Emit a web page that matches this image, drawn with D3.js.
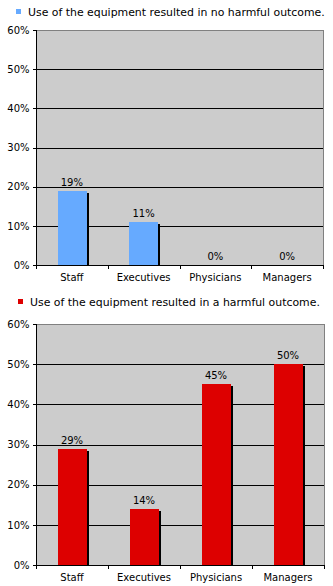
<!DOCTYPE html>
<html><head><meta charset="utf-8">
<script src="https://cdn.jsdelivr.net/npm/d3@7"></script>
<style>body{margin:0;background:#fff}svg{display:block}text{font-family:"DejaVu Sans",Verdana,sans-serif;fill:#000}</style>
</head><body><svg id="c" width="333" height="586"></svg>
<script>
const categories = ["Staff","Executives","Physicians","Managers"];
const noHarmValues = [19, 11, 0, 0];
const harmValues = [29, 14, 45, 50];
const yTicks = [0,10,20,30,40,50,60];
const legendNoHarm = "Use of the equipment resulted in no harmful outcome.";
const legendHarm = "Use of the equipment resulted in a harmful outcome.";

const svg = d3.select("#c");

function drawChart(cfg){
  const g = svg.append("g");
  const x = d3.scaleBand().domain(categories).range([cfg.left, cfg.right]).paddingInner(0.6).paddingOuter(0.3);
  const xb = d3.scaleBand().domain(categories).range([cfg.left, cfg.right]);
  const y = d3.scaleLinear().domain([0,60]).range([cfg.bottom, cfg.top]);
  // legend
  g.append("rect").attr("x",cfg.legX).attr("y",cfg.legY-7).attr("width",5).attr("height",5).attr("fill",cfg.color);
  g.append("text").attr("x",cfg.legX+12).attr("y",cfg.legY).attr("font-size",10.9).attr("fill","#222").text(cfg.legend);
  // plot background
  g.append("rect").attr("x",cfg.left).attr("y",cfg.top).attr("width",cfg.right-cfg.left).attr("height",cfg.bottom-cfg.top)
    .attr("fill","#cccccc").attr("stroke","#808080").attr("stroke-width",1).attr("shape-rendering","crispEdges");
  // gridlines
  g.selectAll(".grid").data(yTicks.filter(d=>d>0&&d<60)).join("line")
    .attr("x1",cfg.left).attr("x2",cfg.right).attr("y1",d=>Math.round(y(d))+0.5).attr("y2",d=>Math.round(y(d))+0.5)
    .attr("stroke","#000").attr("shape-rendering","crispEdges");
  // bars shadow + bars
  const vals = cfg.values;
  g.selectAll(".sh").data(categories).join("rect")
    .attr("x",d=>Math.round(x(d))+2).attr("y",(d,i)=>Math.round(y(vals[i]))+2)
    .attr("width",Math.round(x.bandwidth())).attr("height",(d,i)=>Math.max(0,cfg.bottom-Math.round(y(vals[i]))-2))
    .attr("fill","#000").attr("shape-rendering","crispEdges");
  g.selectAll(".bar").data(categories).join("rect")
    .attr("x",d=>Math.round(x(d))).attr("y",(d,i)=>Math.round(y(vals[i])))
    .attr("width",Math.round(x.bandwidth())).attr("height",(d,i)=>cfg.bottom-Math.round(y(vals[i])))
    .attr("fill",cfg.color).attr("shape-rendering","crispEdges");
  // value labels
  g.selectAll(".vl").data(categories).join("text")
    .attr("x",d=>x(d)+x.bandwidth()/2).attr("y",(d,i)=>y(vals[i])-5)
    .attr("text-anchor","middle").attr("font-size",10).text((d,i)=>vals[i]+"%");
  // y axis
  const ya = d3.axisLeft(y).tickValues(yTicks).tickSize(4).tickPadding(3).tickFormat(d=>d+"%");
  const yg = g.append("g").attr("transform",`translate(${cfg.left+0.5},0)`).call(ya);
  yg.select(".domain").remove();
  yg.selectAll("line").attr("stroke","#000").attr("shape-rendering","crispEdges");
  yg.selectAll("text").attr("font-size",10).attr("font-family",'"DejaVu Sans",Verdana,sans-serif');
  g.append("line").attr("x1",cfg.left+0.5).attr("x2",cfg.left+0.5).attr("y1",cfg.top).attr("y2",cfg.bottom+4)
    .attr("stroke","#000").attr("shape-rendering","crispEdges");
  // x axis
  g.append("line").attr("x1",cfg.left).attr("x2",cfg.right).attr("y1",cfg.bottom+0.5).attr("y2",cfg.bottom+0.5)
    .attr("stroke","#000").attr("shape-rendering","crispEdges");
  const bounds = categories.map(c=>xb(c)+xb.bandwidth());
  g.selectAll(".xt").data(bounds).join("line")
    .attr("x1",d=>Math.round(d)+0.5).attr("x2",d=>Math.round(d)+0.5).attr("y1",cfg.bottom).attr("y2",cfg.bottom+4)
    .attr("stroke","#000").attr("shape-rendering","crispEdges");
  g.selectAll(".xl").data(categories).join("text")
    .attr("x",d=>xb(d)+xb.bandwidth()/2).attr("y",cfg.bottom+16)
    .attr("text-anchor","middle").attr("font-size",10).text(d=>d);
}

drawChart({left:36,right:323,top:30,bottom:265,values:noHarmValues,color:"#66aaff",legend:legendNoHarm,legX:16,legY:16});
drawChart({left:36,right:324,top:324,bottom:565,values:harmValues,color:"#dd0000",legend:legendHarm,legX:18,legY:306});
</script></body></html>
